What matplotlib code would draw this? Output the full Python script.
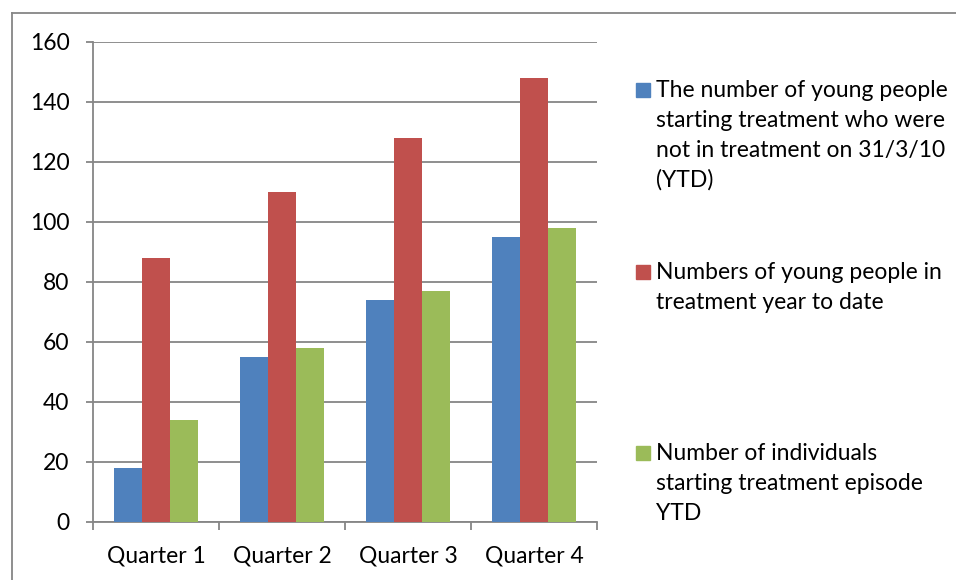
import numpy as np
import matplotlib
matplotlib.use("Agg")
import matplotlib.pyplot as plt
from matplotlib.patches import Rectangle
from matplotlib.lines import Line2D

plt.rcParams['font.family'] = ['Lato', 'DejaVu Sans']

quarters = ["Quarter 1", "Quarter 2", "Quarter 3", "Quarter 4"]
not_in_treatment = [18, 55, 74, 95]
in_treatment_ytd = [88, 110, 128, 148]
episode_ytd = [34, 58, 77, 98]

labels = [
    "The number of young people\nstarting treatment who were\nnot in treatment on 31/3/10\n(YTD)",
    "Numbers of young people in\ntreatment year to date",
    "Number of individuals\nstarting treatment episode\nYTD",
]
colors = ["#4F81BD", "#C0504D", "#9BBB59"]
grid_col = "#868686"
fs = 16.5
W, H = 956, 580

fig = plt.figure(figsize=(W / 100, H / 100), dpi=100)
ax = fig.add_axes([93 / W, 1 - 521.5 / H, 504 / W, 480 / H])

x = np.arange(len(quarters))
w = 28 / 126
series = [not_in_treatment, in_treatment_ytd, episode_ytd]
for i, (vals, c) in enumerate(zip(series, colors)):
    ax.bar(x + (i - 1) * w, vals, width=w, color=c, zorder=3)

ax.set_xlim(-0.5, 3.5)
ax.set_ylim(0, 160)
ax.set_yticks(range(0, 161, 20))
ax.yaxis.grid(True, color=grid_col, linewidth=1.3, zorder=0)
ax.set_xticks(x)
ax.set_xticklabels(quarters, fontsize=fs)
ax.set_xticks(np.arange(-0.5, 4, 1), minor=True)
ax.tick_params(axis='x', which='major', length=0, pad=17)
ax.tick_params(axis='x', which='minor', length=6, color=grid_col, width=1.3)
ax.tick_params(axis='y', length=5, color=grid_col, width=1.3, labelsize=fs, pad=12)
for s in ['top', 'right']:
    ax.spines[s].set_visible(False)
for s in ['left', 'bottom']:
    ax.spines[s].set_color(grid_col)
    ax.spines[s].set_linewidth(1.3)

# legend drawn by hand, Excel style
first_baselines = [97, 279, 460]
step = 29.8
for lab, c, by in zip(labels, colors, first_baselines):
    fig.patches.append(Rectangle((636 / W, 1 - by / H), 14 / W, 14 / H,
                                 transform=fig.transFigure, color=c))
    for k, line in enumerate(lab.split("\n")):
        fig.text(656 / W, 1 - (by + k * step) / H, line, fontsize=fs,
                 va='baseline', ha='left')

# chart area border (cropped on right and bottom)
fig.lines.append(Line2D([11.5 / W, 11.5 / W], [0, 1 - 12.5 / H], transform=fig.transFigure,
                        color=grid_col, linewidth=1.3))
fig.lines.append(Line2D([11.5 / W, 1], [1 - 12.5 / H, 1 - 12.5 / H], transform=fig.transFigure,
                        color=grid_col, linewidth=1.3))

fig.savefig("out.png", dpi=100)
